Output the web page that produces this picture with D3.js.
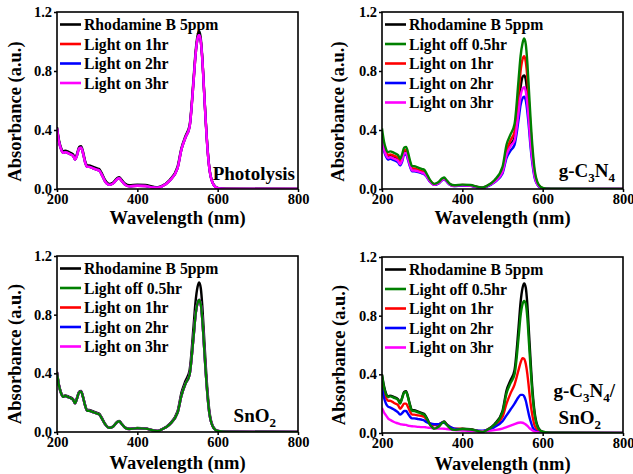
<!DOCTYPE html>
<html>
<head>
<meta charset="utf-8">
<script src="https://cdn.jsdelivr.net/npm/d3@7"></script>
<style>
  body { margin: 0; background: #fff; }
  svg text { font-family: "Liberation Serif", "Times New Roman", serif; font-weight: bold; fill: #000; }
</style>
</head>
<body>
<div id="chart"></div>
<script>
// ---- data (absorbance) ----
const wavelengths = [200,205,210,215,220,230,240,245,250,255,
                     260,265,270,275,280,290,300,305,310,320,
                     330,340,350,355,360,370,380,400,420,440,
                     450,460,480,500,510,520,530,540,545,550,
                     554,558,562,566,570,575,580,590,600,620,
                     800];

const xTicks = [200, 400, 600, 800];
const yTicks = [0, 0.4, 0.8, 1.2];

const labelDye = "Rhodamine B 5ppm";
const labelOff = "Light off 0.5hr";
const labelOn1 = "Light on 1hr";
const labelOn2 = "Light on 2hr";
const labelOn3 = "Light on 3hr";

// Photolysis
const photolysisDye = [0.42,0.33,0.28,0.255,0.26,0.25,0.235,0.21,0.24,0.285,
  0.29,0.25,0.19,0.16,0.16,0.15,0.14,0.135,0.115,0.06,
  0.035,0.045,0.075,0.08,0.065,0.035,0.025,0.03,0.028,0.015,
  0.012,0.02,0.06,0.15,0.28,0.36,0.43,0.75,0.93,1.04,
  1.07,1.02,0.88,0.68,0.48,0.27,0.13,0.03,0.008,0.002,
  0];
// the three light-on curves lie on top of each other
const photolysisLight = [0.41,0.32,0.27,0.245,0.25,0.24,0.225,0.2,0.23,0.275,
  0.28,0.24,0.18,0.15,0.15,0.14,0.13,0.125,0.105,0.05,
  0.028,0.038,0.068,0.073,0.058,0.028,0.018,0.022,0.02,0.01,
  0.008,0.016,0.055,0.14,0.27,0.35,0.42,0.73,0.91,1.02,
  1.045,1.0,0.87,0.67,0.47,0.26,0.125,0.028,0.006,0.001,
  0];

// g-C3N4
const gcnDye = [0.36,0.28,0.24,0.22,0.225,0.215,0.2,0.175,0.205,0.25,
  0.255,0.215,0.165,0.13,0.13,0.125,0.115,0.11,0.095,0.052,
  0.03,0.038,0.064,0.07,0.056,0.029,0.021,0.026,0.023,0.011,
  0.008,0.017,0.05,0.12,0.24,0.3,0.35,0.57,0.69,0.76,
  0.77,0.74,0.64,0.5,0.35,0.2,0.095,0.022,0.005,0.001,
  0];
const gcnOff = [0.41,0.32,0.27,0.25,0.255,0.245,0.23,0.205,0.235,0.28,
  0.285,0.245,0.19,0.155,0.155,0.145,0.135,0.13,0.11,0.06,
  0.035,0.045,0.072,0.078,0.063,0.033,0.025,0.03,0.027,0.014,
  0.01,0.02,0.06,0.15,0.3,0.37,0.44,0.74,0.9,0.99,
  1.02,0.98,0.85,0.66,0.47,0.27,0.13,0.03,0.008,0.002,
  0];
const gcnOn1 = [0.37,0.29,0.25,0.23,0.235,0.225,0.21,0.185,0.215,0.26,
  0.265,0.225,0.175,0.14,0.14,0.13,0.12,0.115,0.1,0.055,
  0.032,0.04,0.066,0.072,0.058,0.03,0.022,0.027,0.024,0.012,
  0.009,0.018,0.055,0.13,0.26,0.33,0.39,0.65,0.8,0.88,
  0.9,0.86,0.75,0.58,0.41,0.23,0.11,0.025,0.006,0.001,
  0];
const gcnOn2 = [0.34,0.26,0.22,0.2,0.205,0.195,0.18,0.16,0.185,0.23,
  0.235,0.195,0.15,0.12,0.12,0.115,0.105,0.1,0.086,0.048,
  0.028,0.036,0.06,0.066,0.053,0.027,0.02,0.024,0.021,0.01,
  0.007,0.015,0.045,0.105,0.21,0.26,0.3,0.47,0.57,0.615,
  0.625,0.6,0.52,0.41,0.28,0.16,0.076,0.018,0.004,0.001,
  0];
const gcnOn3 = [0.35,0.27,0.23,0.21,0.215,0.205,0.19,0.168,0.195,0.24,
  0.245,0.205,0.158,0.125,0.125,0.12,0.11,0.105,0.09,0.05,
  0.029,0.037,0.062,0.068,0.055,0.028,0.02,0.025,0.022,0.011,
  0.008,0.016,0.048,0.115,0.23,0.29,0.33,0.52,0.63,0.68,
  0.69,0.66,0.57,0.45,0.31,0.18,0.085,0.02,0.005,0.001,
  0];

// SnO2
const snDye = [0.41,0.32,0.27,0.245,0.25,0.24,0.225,0.2,0.235,0.275,
  0.28,0.24,0.185,0.15,0.15,0.14,0.13,0.125,0.105,0.055,
  0.03,0.04,0.07,0.075,0.06,0.03,0.022,0.028,0.025,0.012,
  0.008,0.018,0.055,0.14,0.27,0.35,0.42,0.72,0.89,0.99,
  1.02,0.98,0.85,0.66,0.47,0.27,0.13,0.03,0.008,0.002,
  0];
// light off and light on curves coincide (only green is visible)
const snLight = [0.405,0.315,0.265,0.24,0.245,0.235,0.22,0.195,0.23,0.27,
  0.275,0.235,0.18,0.145,0.145,0.135,0.125,0.12,0.1,0.052,
  0.028,0.038,0.068,0.073,0.058,0.028,0.02,0.026,0.023,0.011,
  0.007,0.016,0.05,0.13,0.25,0.33,0.39,0.65,0.8,0.88,
  0.9,0.87,0.76,0.59,0.42,0.24,0.115,0.027,0.007,0.002,
  0];

// g-C3N4/SnO2
const hybDye = [0.40,0.32,0.27,0.25,0.255,0.245,0.23,0.205,0.24,0.28,
  0.285,0.245,0.19,0.155,0.155,0.145,0.135,0.13,0.11,0.058,
  0.032,0.042,0.072,0.078,0.062,0.032,0.023,0.029,0.026,0.013,
  0.009,0.02,0.06,0.15,0.29,0.36,0.43,0.72,0.89,0.99,
  1.02,0.99,0.87,0.68,0.49,0.28,0.14,0.032,0.009,0.002,
  0];
const hybOff = [0.395,0.31,0.265,0.245,0.25,0.24,0.225,0.2,0.235,0.275,
  0.28,0.24,0.185,0.15,0.15,0.14,0.13,0.125,0.105,0.055,
  0.03,0.04,0.07,0.076,0.06,0.03,0.021,0.027,0.024,0.012,
  0.008,0.018,0.056,0.14,0.27,0.34,0.4,0.65,0.8,0.88,
  0.9,0.88,0.78,0.61,0.44,0.25,0.125,0.028,0.008,0.002,
  0];
const hybOn1 = [0.36,0.28,0.24,0.22,0.22,0.205,0.19,0.165,0.18,0.2,
  0.2,0.175,0.145,0.125,0.125,0.12,0.115,0.11,0.095,0.065,
  0.055,0.058,0.07,0.072,0.062,0.04,0.03,0.028,0.022,0.014,
  0.012,0.02,0.05,0.11,0.2,0.27,0.33,0.43,0.48,0.51,
  0.505,0.47,0.4,0.3,0.2,0.11,0.05,0.012,0.003,0.001,
  0];
const hybOn2 = [0.31,0.24,0.2,0.18,0.175,0.16,0.14,0.125,0.135,0.15,
  0.15,0.13,0.11,0.1,0.1,0.095,0.09,0.085,0.075,0.065,
  0.06,0.06,0.07,0.07,0.06,0.04,0.03,0.025,0.02,0.015,
  0.015,0.02,0.04,0.08,0.12,0.16,0.2,0.245,0.26,0.26,
  0.25,0.22,0.17,0.12,0.08,0.04,0.02,0.005,0.002,0.001,
  0];
const hybOn3 = [0.17,0.14,0.12,0.1,0.09,0.075,0.065,0.06,0.058,0.056,
  0.055,0.05,0.048,0.046,0.045,0.042,0.04,0.04,0.038,0.035,
  0.032,0.03,0.03,0.029,0.027,0.024,0.02,0.017,0.014,0.012,
  0.012,0.014,0.02,0.03,0.04,0.05,0.06,0.07,0.072,0.07,
  0.065,0.058,0.048,0.037,0.027,0.017,0.01,0.003,0.001,0,
  0];

// ---- styling ----
const colorDye = "#000000", colorOff = "#008000", colorOn1 = "#ff0000",
      colorOn2 = "#0000ff", colorOn3 = "#ff00ff";

// legend order == series order; curves drawn with green last
const panels = [
  { left: 57, top: 12, width: 241, height: 177, yLabelDx: -36, yLabelDy: 11, xLabelDy: 35,
    series: [
      { label: labelDye, color: colorDye, values: photolysisDye },
      { label: labelOn1, color: colorOn1, values: photolysisLight },
      { label: labelOn2, color: colorOn2, values: photolysisLight },
      { label: labelOn3, color: colorOn3, values: photolysisLight }],
    note: [{ dx: -3, dy: -9, parts: [["Photolysis"]] }] },
  { left: 382, top: 12, width: 241, height: 177, yLabelDx: -38, yLabelDy: 11, xLabelDy: 35,
    series: [
      { label: labelDye, color: colorDye, values: gcnDye },
      { label: labelOff, color: colorOff, values: gcnOff, top: true },
      { label: labelOn1, color: colorOn1, values: gcnOn1 },
      { label: labelOn2, color: colorOn2, values: gcnOn2 },
      { label: labelOn3, color: colorOn3, values: gcnOn3 }],
    note: [{ dx: -8, dy: -12, parts: [["g-C"], ["3", 1], ["N"], ["4", 1]] }] },
  { left: 57, top: 256, width: 241, height: 176, yLabelDx: -36, yLabelDy: 10, xLabelDy: 37,
    series: [
      { label: labelDye, color: colorDye, values: snDye },
      { label: labelOff, color: colorOff, values: snLight, top: true },
      { label: labelOn1, color: colorOn1, values: snLight },
      { label: labelOn2, color: colorOn2, values: snLight },
      { label: labelOn3, color: colorOn3, values: snLight }],
    note: [{ dx: -22, dy: -10, parts: [["SnO"], ["2", 1]] }] },
  { left: 382, top: 257, width: 241, height: 176, yLabelDx: -37, yLabelDy: 10, xLabelDy: 37,
    series: [
      { label: labelDye, color: colorDye, values: hybDye },
      { label: labelOff, color: colorOff, values: hybOff, top: true },
      { label: labelOn1, color: colorOn1, values: hybOn1 },
      { label: labelOn2, color: colorOn2, values: hybOn2 },
      { label: labelOn3, color: colorOn3, values: hybOn3 }],
    note: [{ dx: -8, dy: -36, parts: [["g-C"], ["3", 1], ["N"], ["4", 1], ["/"]] },
           { dx: -22, dy: -9, parts: [["SnO"], ["2", 1]] }] }
];

const svg = d3.select("#chart").append("svg")
    .attr("width", 633)
    .attr("height", 474);

panels.forEach((cfg, i) => drawPanel(cfg, i));

function drawPanel(cfg, i) {
    let g = svg.append("g").attr("transform", `translate(${cfg.left},${cfg.top})`);

    let xScale = d3.scaleLinear().domain([200, 800]).range([0, cfg.width]);
    let yScale = d3.scaleLinear().domain([0, 1.2]).range([cfg.height, 0]);

    g.append("clipPath").attr("id", "clip" + i)
        .append("rect").attr("width", cfg.width).attr("height", cfg.height);

    let line = d3.line()
        .x(d => xScale(d[0]))
        .y(d => yScale(d[1]))
        .curve(d3.curveMonotoneX);

    // green (light off) goes on top of the others
    let drawOrder = cfg.series.filter(s => !s.top).concat(cfg.series.filter(s => s.top));

    g.append("g").attr("clip-path", `url(#clip${i})`)
        .selectAll("path").data(drawOrder).join("path")
        .attr("d", s => line(d3.zip(wavelengths, s.values)))
        .attr("fill", "none")
        .attr("stroke", s => s.color)
        .attr("stroke-width", 2.4)
        .attr("stroke-linejoin", "round");

    // axes
    let xAxis = d3.axisBottom(xScale).tickValues(xTicks).tickSize(3).tickPadding(1.5).tickFormat(d3.format("d"));
    let yAxis = d3.axisLeft(yScale).tickValues(yTicks).tickSize(3).tickPadding(2).tickFormat(d3.format(".1f"));

    let gx = g.append("g").attr("transform", `translate(0,${cfg.height})`).call(xAxis);
    let gy = g.append("g").call(yAxis);
    [gx, gy].forEach(a => {
        a.select(".domain").remove();
        a.selectAll("line").attr("stroke", "#000").attr("stroke-width", 1.5);
        a.selectAll("text").style("font-size", "14.5px").attr("fill", "#000");
    });

    g.append("rect")
        .attr("width", cfg.width)
        .attr("height", cfg.height)
        .attr("fill", "none")
        .attr("stroke", "#000")
        .attr("stroke-width", 1.6);

    // axis titles
    g.append("text")
        .attr("x", cfg.width / 2)
        .attr("y", cfg.height + cfg.xLabelDy)
        .attr("text-anchor", "middle")
        .style("font-size", "18.5px")
        .text("Wavelength (nm)");

    g.append("text")
        .attr("transform", `translate(${cfg.yLabelDx},${cfg.height / 2 + cfg.yLabelDy}) rotate(-90)`)
        .attr("text-anchor", "middle")
        .style("font-size", "18.5px")
        .text("Absorbance (a.u.)");

    // legend
    let legend = g.append("g").selectAll("g").data(cfg.series).join("g")
        .attr("transform", (d, k) => `translate(0,${12.5 + k * 19.5})`);
    legend.append("line")
        .attr("x1", 3).attr("x2", 24)
        .attr("stroke", d => d.color)
        .attr("stroke-width", 2.6);
    legend.append("text")
        .attr("x", 27)
        .attr("dy", "0.35em")
        .style("font-size", "15.7px")
        .text(d => d.label);

    // sample name
    cfg.note.forEach(n => {
        let t = g.append("text")
            .attr("x", cfg.width + n.dx)
            .attr("y", cfg.height + n.dy)
            .attr("text-anchor", "end")
            .style("font-size", "19px");
        let shift = 0;
        n.parts.forEach(p => {
            let sub = p[1] === 1;
            let dy = sub ? 5 - shift : -shift;
            shift = sub ? 5 : 0;
            t.append("tspan")
                .attr("dy", dy)
                .style("font-size", sub ? "13px" : "19px")
                .text(p[0]);
        });
    });
}
</script>
</body>
</html>
